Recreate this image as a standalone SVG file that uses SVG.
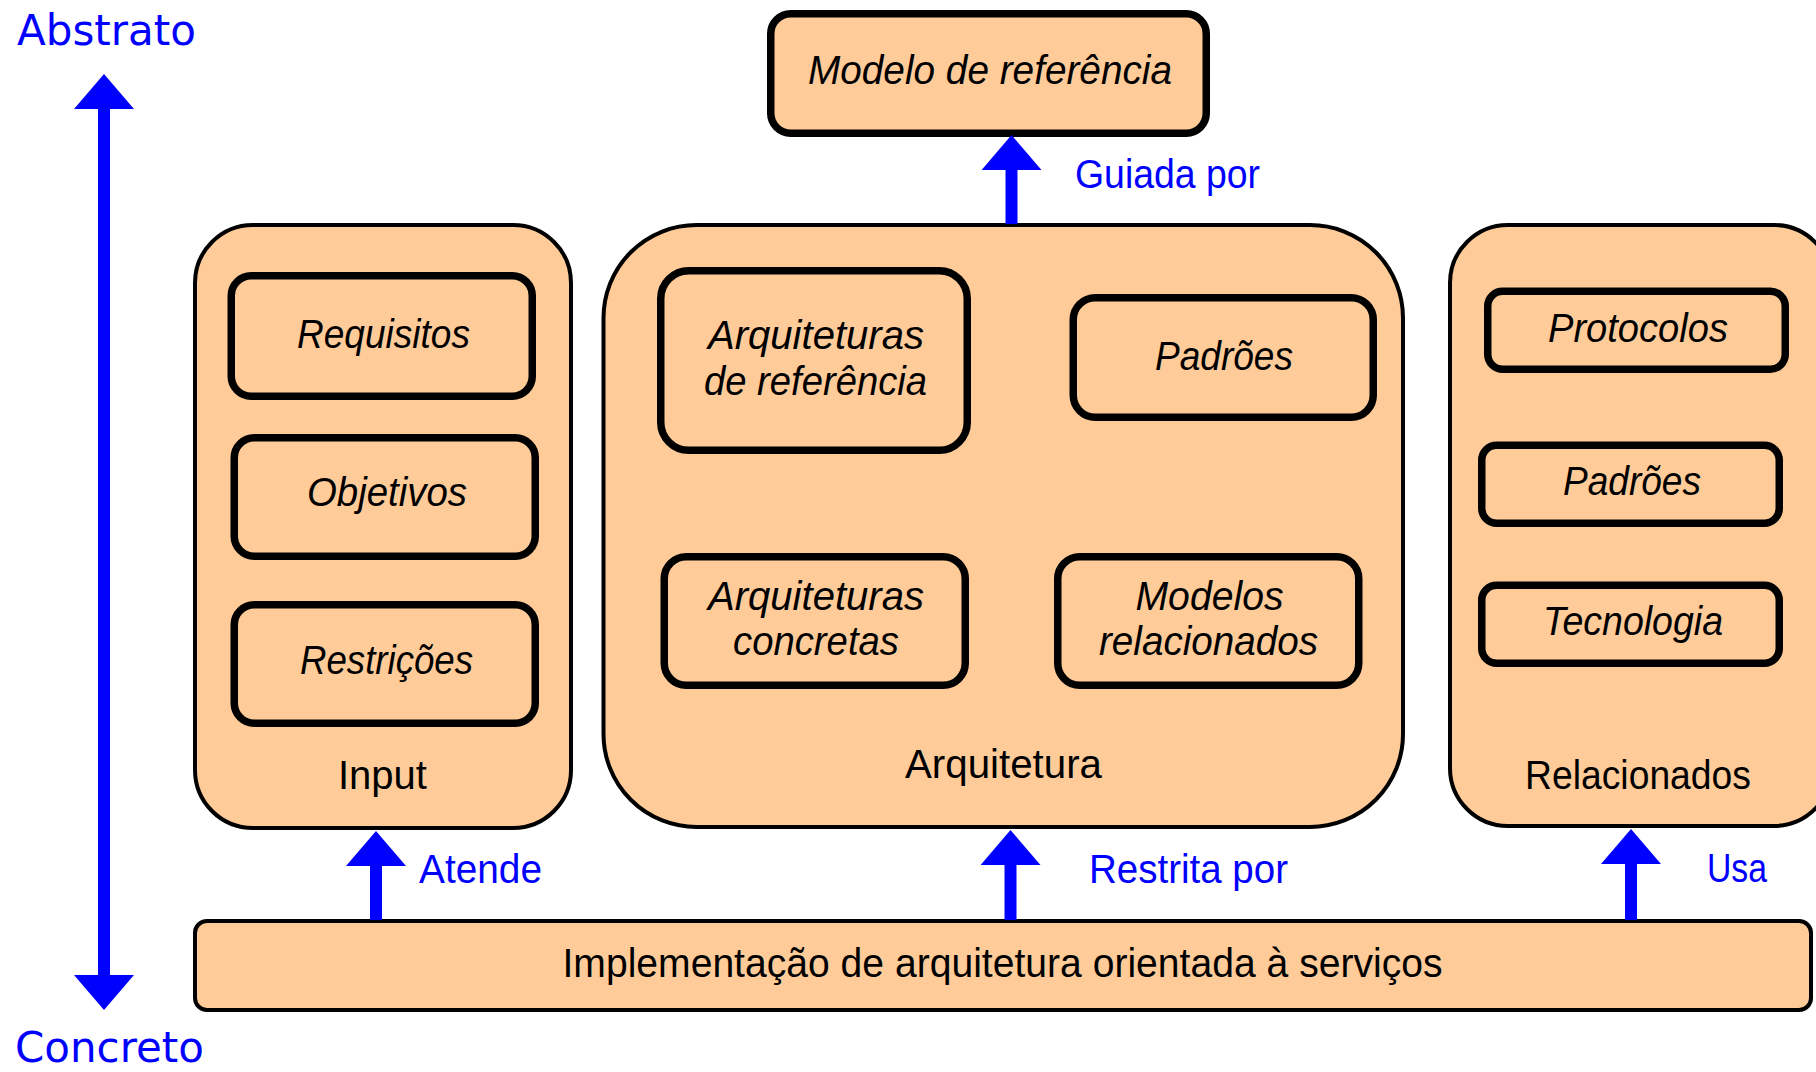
<svg xmlns="http://www.w3.org/2000/svg" width="1816" height="1072" viewBox="0 0 1816 1072">
<style>
.cont{fill:#FFCC99;stroke:#000;stroke-width:4}
.box{fill:#FFCC99;stroke:#000;stroke-width:7.5}
.t{font-family:"Liberation Sans",Arial,sans-serif;font-size:41px;fill:#000}
.i{font-style:italic}
.b{fill:#0000FF}
.axis{font-family:"DejaVu Sans",Verdana,sans-serif;font-size:42px;fill:#0000FF}
.arr{stroke:#0000FF;stroke-width:12;fill:none}
</style>
<defs>
<marker id="head" markerUnits="userSpaceOnUse" markerWidth="36" markerHeight="60" refX="0" refY="30" orient="auto-start-reverse" viewBox="0 0 36 60">
<path d="M0,0 L35,30 L0,60 Z" fill="#0000FF"/>
</marker>
</defs>
<rect width="1816" height="1072" fill="#fff"/>

<g id="axis">
<text class="axis" x="17" y="45" textLength="179" lengthAdjust="spacingAndGlyphs">Abstrato</text>
<text class="axis" x="15" y="1062" textLength="189" lengthAdjust="spacingAndGlyphs">Concreto</text>
</g>

<g id="modelo-referencia">
<rect class="box" x="770.75" y="13.75" width="435.5" height="119.5" rx="20"/>
<text class="t i" x="808" y="84" textLength="364" lengthAdjust="spacingAndGlyphs">Modelo de referência</text>
</g>

<g id="input">
<rect class="cont" x="195" y="225" width="376" height="603" rx="58"/>
<text class="t" x="338" y="789" textLength="89" lengthAdjust="spacingAndGlyphs">Input</text>
</g>
<g id="requisitos">
<rect class="box" x="231.25" y="275.75" width="301" height="120.5" rx="20"/>
<text class="t i" x="297" y="347.5" textLength="173" lengthAdjust="spacingAndGlyphs">Requisitos</text>
</g>
<g id="objetivos">
<rect class="box" x="234.25" y="437.75" width="301" height="118.5" rx="20"/>
<text class="t i" x="307" y="505.5" textLength="160" lengthAdjust="spacingAndGlyphs">Objetivos</text>
</g>
<g id="restricoes">
<rect class="box" x="234.25" y="604.75" width="301" height="118.5" rx="20"/>
<text class="t i" x="300" y="673.5" textLength="173" lengthAdjust="spacingAndGlyphs">Restrições</text>
</g>

<g id="arquitetura">
<rect class="cont" x="603.5" y="225" width="799.5" height="602" rx="93"/>
<text class="t" x="905" y="778" textLength="197" lengthAdjust="spacingAndGlyphs">Arquitetura</text>
</g>
<g id="arq-referencia">
<rect class="box" x="660.75" y="270.75" width="306.5" height="179.5" rx="28"/>
<text class="t i" x="708" y="348.5" textLength="216" lengthAdjust="spacingAndGlyphs">Arquiteturas</text>
<text class="t i" x="704" y="395" textLength="223" lengthAdjust="spacingAndGlyphs">de referência</text>
</g>
<g id="padroes-arq">
<rect class="box" x="1073.25" y="297.75" width="300" height="119.5" rx="22"/>
<text class="t i" x="1155" y="369.5" textLength="138" lengthAdjust="spacingAndGlyphs">Padrões</text>
</g>
<g id="arq-concretas">
<rect class="box" x="664.25" y="556.75" width="301" height="128.5" rx="22"/>
<text class="t i" x="708" y="609.5" textLength="216" lengthAdjust="spacingAndGlyphs">Arquiteturas</text>
<text class="t i" x="733" y="655" textLength="166" lengthAdjust="spacingAndGlyphs">concretas</text>
</g>
<g id="modelos-relacionados">
<rect class="box" x="1057.75" y="556.75" width="301" height="128.5" rx="22"/>
<text class="t i" x="1135.5" y="609.5" textLength="148" lengthAdjust="spacingAndGlyphs">Modelos</text>
<text class="t i" x="1099" y="655" textLength="219" lengthAdjust="spacingAndGlyphs">relacionados</text>
</g>

<g id="relacionados">
<rect class="cont" x="1450" y="225" width="382" height="601" rx="58"/>
<text class="t" x="1525" y="789" textLength="226" lengthAdjust="spacingAndGlyphs">Relacionados</text>
</g>
<g id="protocolos">
<rect class="box" x="1487.75" y="291.25" width="297.5" height="78" rx="15"/>
<text class="t i" x="1548" y="341.5" textLength="180" lengthAdjust="spacingAndGlyphs">Protocolos</text>
</g>
<g id="padroes-rel">
<rect class="box" x="1481.75" y="445.25" width="297.5" height="78" rx="15"/>
<text class="t i" x="1563" y="495" textLength="138" lengthAdjust="spacingAndGlyphs">Padrões</text>
</g>
<g id="tecnologia">
<rect class="box" x="1481.75" y="585.25" width="297.5" height="78" rx="15"/>
<text class="t i" x="1543" y="635" textLength="180" lengthAdjust="spacingAndGlyphs">Tecnologia</text>
</g>

<g id="implementacao">
<rect class="cont" x="195" y="921" width="1616" height="89" rx="12"/>
<text class="t" x="562.5" y="976.5" textLength="880" lengthAdjust="spacingAndGlyphs">Implementação de arquitetura orientada à serviços</text>
</g>

<g id="connectors">
<path class="arr" d="M104,109 V975" stroke-width="11" marker-start="url(#head)" marker-end="url(#head)"/>
<path class="arr" d="M1011.5,224 V170" marker-end="url(#head)"/>
<path class="arr" d="M376,920 V866" marker-end="url(#head)"/>
<path class="arr" d="M1010.5,920 V865" marker-end="url(#head)"/>
<path class="arr" d="M1631,920 V864" marker-end="url(#head)"/>
<text class="t b" x="1075" y="188" textLength="185" lengthAdjust="spacingAndGlyphs">Guiada por</text>
<text class="t b" x="419" y="883" textLength="123" lengthAdjust="spacingAndGlyphs">Atende</text>
<text class="t b" x="1089" y="883" textLength="199" lengthAdjust="spacingAndGlyphs">Restrita por</text>
<text class="t b" x="1707" y="882" textLength="60" lengthAdjust="spacingAndGlyphs">Usa</text>
</g>
</svg>
